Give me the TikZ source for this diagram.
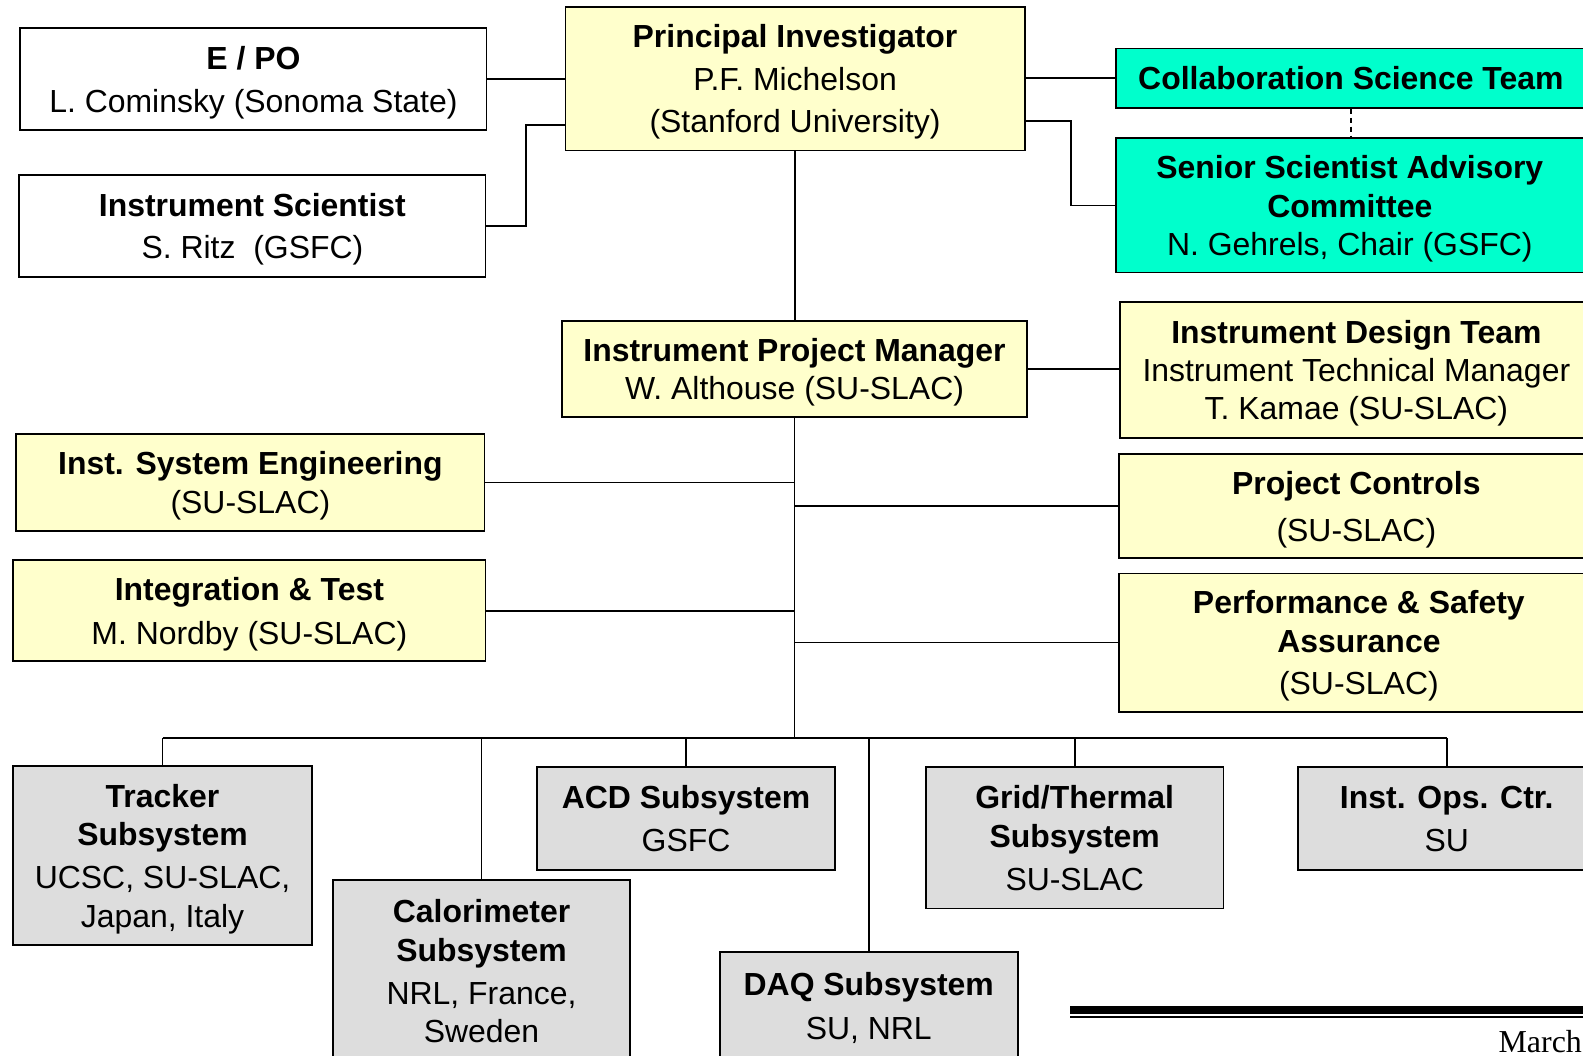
\documentclass[tikz,border=0pt]{standalone}
\usepackage{fontspec}
\setmainfont{Liberation Sans}
\newfontfamily\datefont{Liberation Serif}
\usetikzlibrary{positioning}
\definecolor{orgYellow}{HTML}{FFFFCC}
\definecolor{orgCyan}{HTML}{00FFCC}
\definecolor{orgGray}{HTML}{DDDDDD}

\begin{document}
\begin{tikzpicture}[
    x=0.02cm, y=-0.02cm,
    orgbox/.style={rectangle, draw=black, line width=1pt, align=center,
                   inner sep=2pt, text depth=0pt, font=\fontsize{18}{21.6}\selectfont},
    whitebox/.style={orgbox, fill=white},
    yelbox/.style={orgbox, fill=orgYellow},
    cyanbox/.style={orgbox, fill=orgCyan},
    graybox/.style={orgbox, fill=orgGray},
    link/.style={draw=black, line width=1pt},
  ]
    \useasboundingbox (0,0) rectangle (1568,1045);

    % top level
    \node[yelbox, minimum width=9.10cm, minimum height=2.84cm] (pi) at (787.5,78)
      {\textbf{Principal Investigator}\\[2.3pt]P.F. Michelson\\[2.3pt](Stanford University)};
    \node[whitebox, minimum width=9.24cm, minimum height=2.02cm] (epo) at (251,78.5)
      {\textbf{E / PO}\\[2.3pt]L. Cominsky (Sonoma State)};
    \node[whitebox, minimum width=9.24cm, minimum height=2.02cm] (isci) at (250,223.5)
      {\textbf{Instrument Scientist}\\[2.3pt]S. Ritz\ \ (GSFC)};
    \node[cyanbox, minimum width=9.32cm, minimum height=1.18cm] (cst) at (1338,77.5)
      {\textbf{Collaboration Science Team}};
    \node[cyanbox, minimum width=9.28cm, minimum height=2.66cm] (ssac) at (1337,203.5)
      {\textbf{Senior Scientist Advisory}\\\textbf{Committee}\\N. Gehrels, Chair (GSFC)};

    % project office
    \node[yelbox, minimum width=9.20cm, minimum height=1.90cm] (ipm) at (787,365.5)
      {\textbf{Instrument Project Manager}\\W. Althouse (SU-SLAC)};
    \node[yelbox, minimum width=9.38cm, minimum height=2.70cm] (idt) at (1343.5,366.5)
      {\textbf{Instrument Design Team}\\Instrument Technical Manager\\T. Kamae (SU-SLAC)};
    \node[yelbox, minimum width=9.28cm, minimum height=1.92cm] (ise) at (248,478)
      {\textbf{Inst. System Engineering}\\(SU-SLAC)};
    \node[yelbox, minimum width=9.42cm, minimum height=2.06cm] (pctl) at (1343.5,501.5)
      {\textbf{Project Controls}\\[4.5pt](SU-SLAC)};
    \node[yelbox, minimum width=9.36cm, minimum height=2.00cm] (intt) at (247,605)
      {\textbf{Integration \& Test}\\[2.8pt]M. Nordby (SU-SLAC)};
    \node[yelbox, minimum width=9.52cm, minimum height=2.74cm] (psa) at (1346,636.5)
      {\textbf{Performance \& Safety}\\\textbf{Assurance}\\[2.3pt](SU-SLAC)};

    % subsystems
    \node[graybox, minimum width=5.92cm, minimum height=3.54cm] (trk) at (161,847.5)
      {\textbf{Tracker}\\\textbf{Subsystem}\\[2.8pt]UCSC, SU-SLAC,\\Japan, Italy};
    \node[graybox, minimum width=5.88cm, minimum height=3.60cm] (cal) at (477,962)
      {\textbf{Calorimeter}\\\textbf{Subsystem}\\[2.8pt]NRL, France,\\Sweden};
    \node[graybox, minimum width=5.90cm, minimum height=2.04cm] (acd) at (679.5,811)
      {\textbf{ACD Subsystem}\\[2.8pt]GSFC};
    \node[graybox, minimum width=5.90cm, minimum height=2.14cm] (daq) at (860.5,996.5)
      {\textbf{DAQ Subsystem}\\[2.8pt]SU, NRL};
    \node[graybox, minimum width=5.90cm, minimum height=2.80cm] (grid) at (1064.5,830)
      {\textbf{Grid/Thermal}\\\textbf{Subsystem}\\[2.8pt]SU-SLAC};
    \node[graybox, minimum width=5.88cm, minimum height=2.04cm] (ops) at (1433,811)
      {\textbf{Inst. Ops. Ctr.}\\[2.8pt]SU};

    % connectors
    \draw[link] (epo.east) -- (epo.east -| pi.west);
    \draw[link] (isci.east) -- ++(39,0) |- ([yshift=-0.92cm]pi.west);
    \draw[link] (cst.west) -- (cst.west -| pi.east);
    \draw[link] ([yshift=-0.84cm]pi.east) -- ++(45,0) |- (ssac.west);
    \draw[link, dash pattern=on 3pt off 2pt] (cst.south) -- (cst.south |- ssac.north);
    \draw[link] (pi.south) -- (pi.south |- ipm.north);
    \draw[link] (ipm.east) -- (ipm.east -| idt.west);

    \coordinate (bus) at (786,731);
    \draw[link] (ipm.south) -- (ipm.south |- bus);
    \draw[link] (ise.east) -- (ise.east -| bus);
    \draw[link] (intt.east) -- (intt.east -| bus);
    \draw[link] (pctl.west) -- (pctl.west -| bus);
    \draw[link] (psa.west) -- (psa.west -| bus);
    \draw[link] (trk.north |- bus) -- (ops.north |- bus);
    \foreach \sub in {trk, cal, acd, daq, grid, ops}
      \draw[link] (\sub.north) -- (\sub.north |- bus);

    % footer
    \draw[line width=0.16cm] (1060,1000) -- (1575,1000);
    \draw[line width=0.04cm] (1060,1007) -- (1575,1007);
    \node[anchor=base west, inner sep=0pt, font=\datefont\fontsize{18}{21.6}\selectfont] (date) at (1484,1043) {March};
  \end{tikzpicture}
\end{document}
